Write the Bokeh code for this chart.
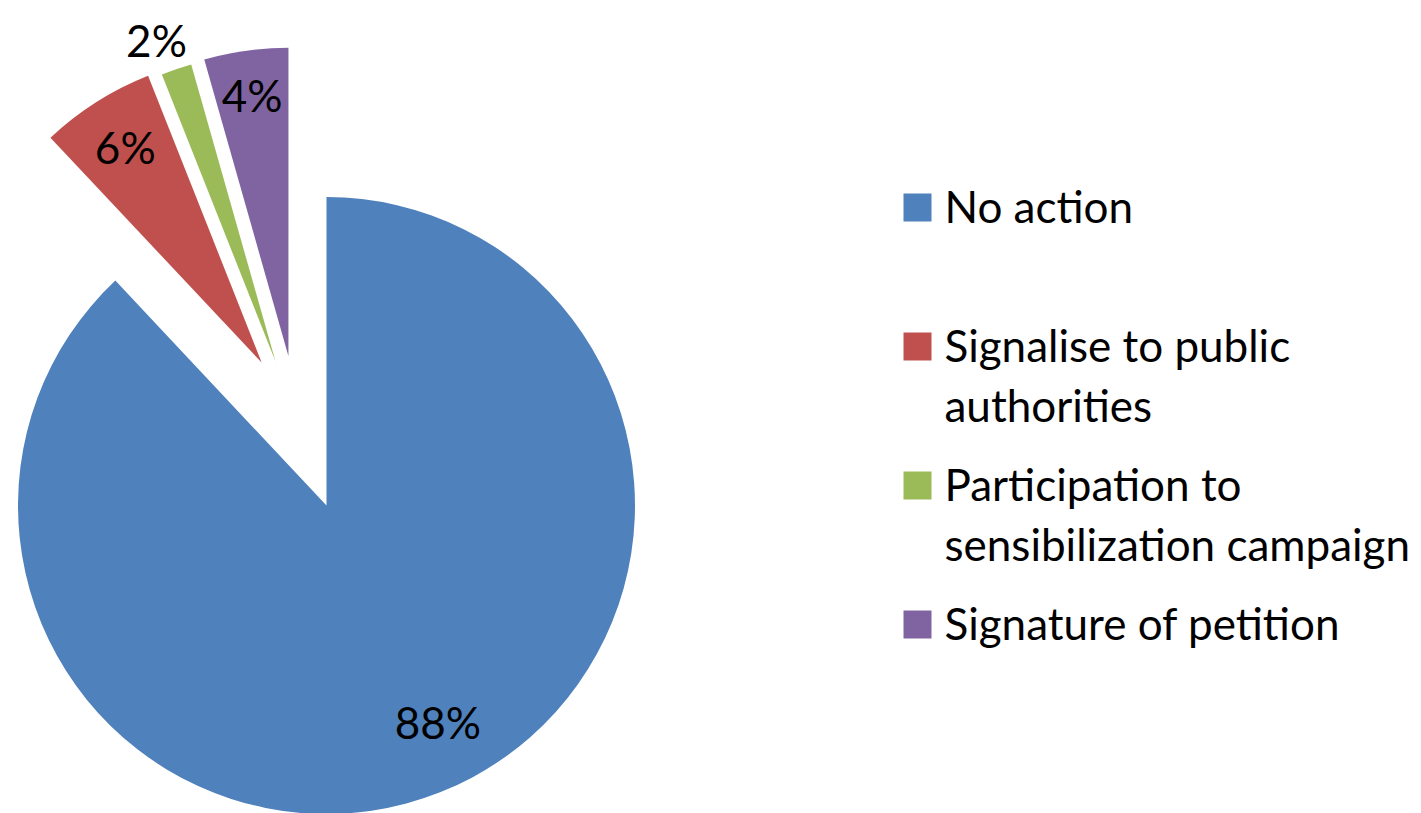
import math
import textwrap
from bokeh.plotting import figure
from bokeh.models import Range1d, ColumnDataSource
from bokeh.embed import file_html
from bokeh.resources import INLINE
from bokeh.core.properties import value

# ---- data ----
categories = ["No action",
              "Signalise to public authorities",
              "Participation to sensibilization campaign",
              "Signature of petition"]
shares = [88.0, 6.0, 1.6, 4.4]
pct_labels = ["88%", "6%", "2%", "4%"]

# ---- style / layout ----
colors = ["#4F81BD", "#C0504D", "#9BBB59", "#8064A2"]
W, H = 1421, 813
CX, CY = 326, H - 505
R = 308.5
explode_dist = [0, 157, 153, 154]
explode_dir = [0, 24.4, 19.5, 14.3]      # degrees to the left of 12 o'clock
label_frac = [0.79, 0.825, 1.11, 0.855]
label_shift = [-5.6, 0.0, -1.6, 0.0]
FONT = "Lato"
LABEL_SIZE = 44
LEG_SIZE = 44
LEG_SQ_X, LEG_SQ = 917, 28
LEG_Y0, LEG_STEP = 207, 139
LEG_TX = 944
LEG_LINE = 60
TEXT_DY = 16   # baseline correction for rendered text

p = figure(width=W, height=H, x_range=Range1d(0, W), y_range=Range1d(0, H),
           output_backend="svg", toolbar_location=None, min_border=0,
           x_axis_type=None, y_axis_type=None)
p.grid.visible = False
p.outline_line_color = None
p.background_fill_color = "white"
p.border_fill_color = "white"

total = sum(shares)
cum = 0.0
wx, wy, ws, we, lx, ly = [], [], [], [], [], []
for i, s in enumerate(shares):
    a0 = cum / total * 360.0
    a1 = (cum + s) / total * 360.0
    cum += s
    d = explode_dist[i]
    t = math.radians(explode_dir[i])
    x0 = CX - d * math.sin(t)
    y0 = CY + d * math.cos(t)
    wx.append(x0)
    wy.append(y0)
    ws.append(math.radians(90 - a0))
    we.append(math.radians(90 - a1))
    am = math.radians((a0 + a1) / 2 + label_shift[i])
    r = label_frac[i] * R
    lx.append(x0 + r * math.sin(am))
    ly.append(y0 + r * math.cos(am) - 0.3583 * LABEL_SIZE + TEXT_DY)

src = ColumnDataSource(dict(x=wx, y=wy, start=ws, end=we, color=colors,
                            lx=lx, ly=ly, lab=pct_labels))
p.wedge(x="x", y="y", radius=R, start_angle="start", end_angle="end",
        direction="clock", fill_color="color", line_color=None, source=src)
p.text(x="lx", y="ly", text="lab", source=src, text_font=value(FONT),
       text_font_size=f"{LABEL_SIZE}px", text_align="center",
       text_baseline="alphabetic", text_color="black")

# ---- legend ----
sq_y, tx, ty, tt = [], [], [], []
for i, cat in enumerate(categories):
    yc = H - (LEG_Y0 + i * LEG_STEP)
    sq_y.append(yc)
    for j, line in enumerate(textwrap.wrap(cat, 24)):
        tx.append(LEG_TX)
        ty.append(yc - 14 - j * LEG_LINE + TEXT_DY)
        tt.append(line)

p.rect(x=[LEG_SQ_X] * len(categories), y=sq_y, width=LEG_SQ, height=LEG_SQ,
       fill_color=colors, line_color=None)
p.text(x=tx, y=ty, text=tt, text_font=value(FONT), text_font_size=f"{LEG_SIZE}px",
       text_align="left", text_baseline="alphabetic", text_color="black")

open("out.html", "w").write(file_html(p, INLINE))
